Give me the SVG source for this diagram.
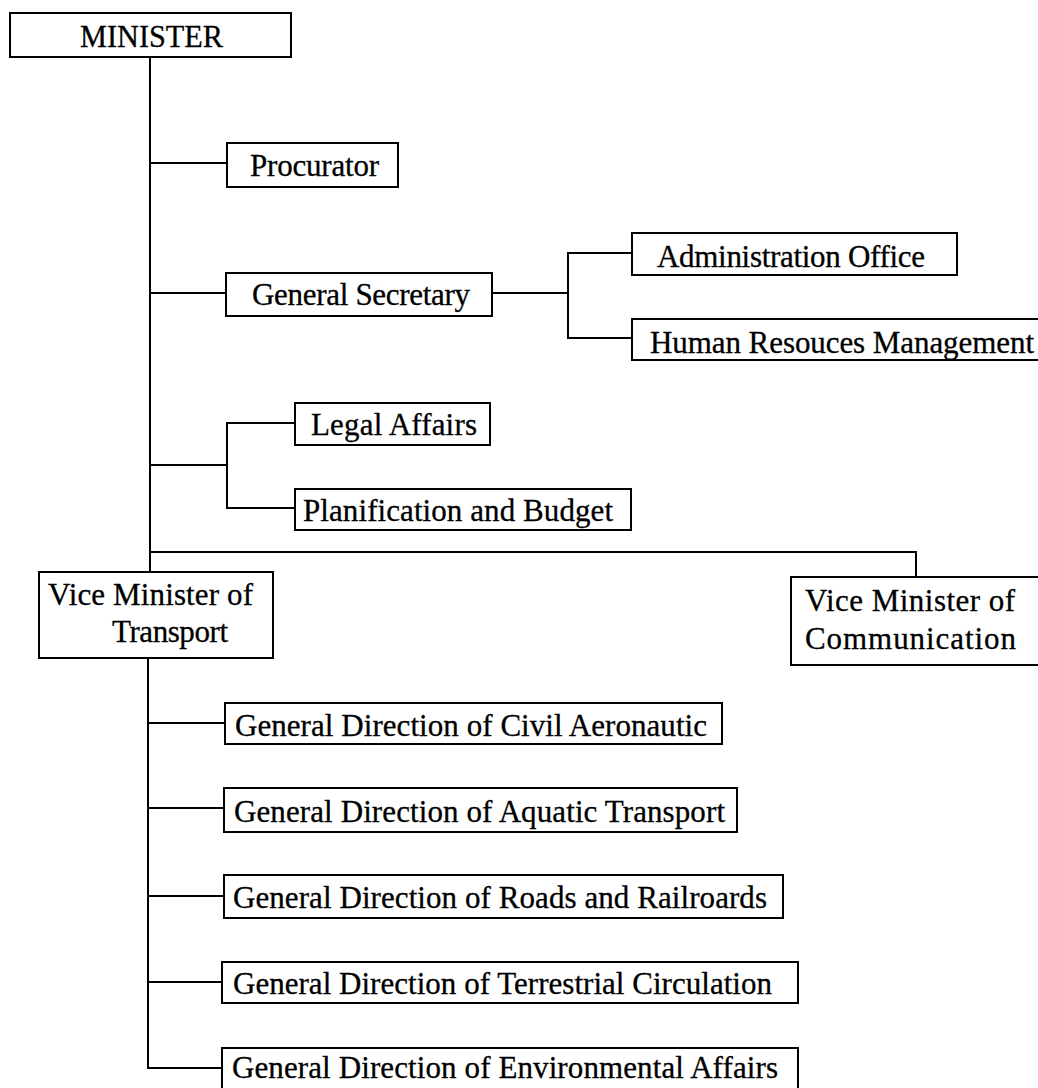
<svg xmlns="http://www.w3.org/2000/svg" width="1038" height="1088" viewBox="0 0 1038 1088">
<style>
.box{fill:#fff;stroke:#000;stroke-width:2}
.ln{fill:none;stroke:#000;stroke-width:2}
.t{font-family:"Liberation Serif","Times New Roman",Times,serif;font-size:31px;fill:#000;stroke:#000;stroke-width:0.3}
</style>
<rect width="1038" height="1088" fill="#fff"/>
<g id="connectors">
<path class="ln" d="M150,57 V572"/>
<path class="ln" d="M150,163 H227"/>
<path class="ln" d="M150,293 H226"/>
<path class="ln" d="M492,293 H568"/>
<path class="ln" d="M632,253 H568 V338 H632"/>
<path class="ln" d="M150,465 H227"/>
<path class="ln" d="M295,423 H227 V508 H295"/>
<path class="ln" d="M150,552 H916 V577"/>
<path class="ln" d="M148,658 V1068 H222"/>
<path class="ln" d="M148,723 H225"/>
<path class="ln" d="M148,808 H224"/>
<path class="ln" d="M148,896 H224"/>
<path class="ln" d="M148,982 H222"/>
</g>
<g id="minister"><rect class="box" x="10" y="13" width="281" height="44"/><text class="t" x="80" y="47" textLength="143" lengthAdjust="spacingAndGlyphs">MINISTER</text></g>
<g id="procurator"><rect class="box" x="227" y="143" width="171" height="44"/><text class="t" x="250" y="176" textLength="129" lengthAdjust="spacing">Procurator</text></g>
<g id="general-secretary"><rect class="box" x="226" y="273" width="266" height="43"/><text class="t" x="252" y="305" textLength="218" lengthAdjust="spacing">General Secretary</text></g>
<g id="administration-office"><rect class="box" x="632" y="233" width="325" height="42"/><text class="t" x="657" y="267" textLength="268" lengthAdjust="spacing">Administration Office</text></g>
<g id="human-resources"><rect class="box" x="632" y="319" width="420" height="41"/><text class="t" x="650" y="353" textLength="384" lengthAdjust="spacing">Human Resouces Management</text></g>
<g id="legal-affairs"><rect class="box" x="295" y="403" width="195" height="42"/><text class="t" x="311" y="435" textLength="166" lengthAdjust="spacing">Legal Affairs</text></g>
<g id="planification"><rect class="box" x="295" y="489" width="336" height="41"/><text class="t" x="303" y="521" textLength="310" lengthAdjust="spacing">Planification and Budget</text></g>
<g id="vm-transport"><rect class="box" x="39" y="572" width="234" height="86"/><text class="t" x="48" y="605" textLength="205" lengthAdjust="spacing">Vice Minister of</text><text class="t" x="112" y="642" textLength="116" lengthAdjust="spacing">Transport</text></g>
<g id="vm-communication"><rect class="box" x="791" y="577" width="260" height="88"/><text class="t" x="805" y="611" textLength="210" lengthAdjust="spacing">Vice Minister of</text><text class="t" x="805" y="649" textLength="211" lengthAdjust="spacing">Communication</text></g>
<g id="gd-civil"><rect class="box" x="225" y="703" width="497" height="41"/><text class="t" x="235" y="736" textLength="472" lengthAdjust="spacing">General Direction of Civil Aeronautic</text></g>
<g id="gd-aquatic"><rect class="box" x="224" y="788" width="513" height="44"/><text class="t" x="234" y="822" textLength="491" lengthAdjust="spacing">General Direction of Aquatic Transport</text></g>
<g id="gd-roads"><rect class="box" x="224" y="875" width="559" height="43"/><text class="t" x="233" y="908" textLength="534" lengthAdjust="spacing">General Direction of Roads and Railroards</text></g>
<g id="gd-terrestrial"><rect class="box" x="222" y="962" width="576" height="41"/><text class="t" x="233" y="994" textLength="539" lengthAdjust="spacing">General Direction of Terrestrial Circulation</text></g>
<g id="gd-environmental"><rect class="box" x="222" y="1048" width="576" height="44"/><text class="t" x="232" y="1078" textLength="546" lengthAdjust="spacing">General Direction of Environmental Affairs</text></g>
</svg>
